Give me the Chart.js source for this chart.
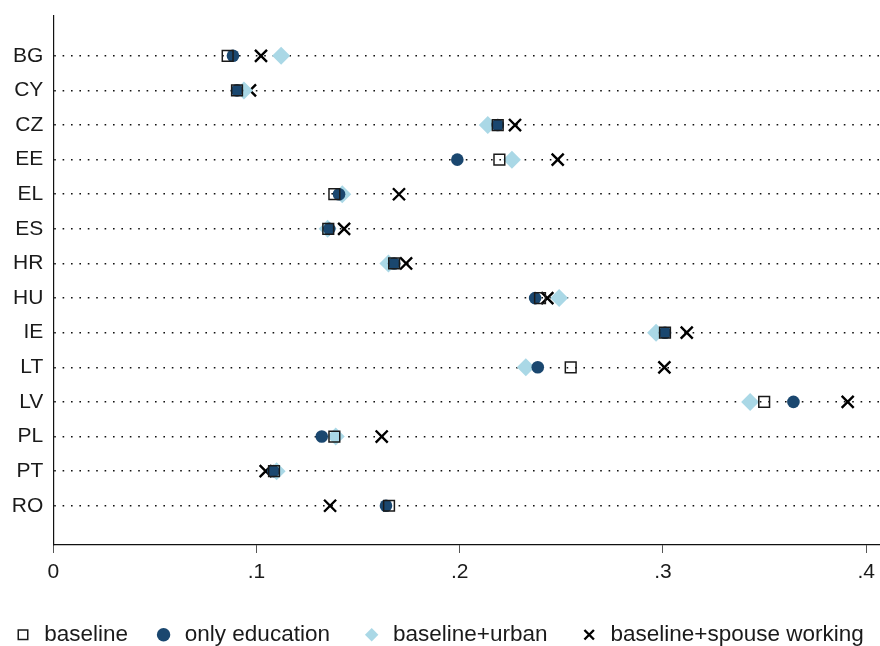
<!DOCTYPE html>
<html><head><meta charset="utf-8">
<script src="https://cdn.jsdelivr.net/npm/chart.js@4.4.1/dist/chart.umd.min.js"></script>
<style>html,body{margin:0;padding:0;background:#fff;overflow:hidden;} #wrap{width:880px;height:656px;}</style>
</head><body><div id="wrap"><canvas id="c" width="880" height="656"></canvas></div>
<script>
const countries = ['BG','CY','CZ','EE','EL','ES','HR','HU','IE','LT','LV','PL','PT','RO'];
const baseline      = [0.0858,0.0904,0.2187,0.2195,0.1383,0.1353,0.1677,0.2395,0.3010,0.2546,0.3498,0.1383,0.1086,0.1652];
const onlyEducation = [0.0884,0.0904,0.2187,0.1988,0.1406,0.1358,0.1677,0.2371,0.3010,0.2384,0.3642,0.1321,0.1083,0.1637];
const baselineUrban = [0.1121,0.0938,0.2138,0.2257,0.1422,0.1350,0.1649,0.2489,0.2966,0.2325,0.3429,0.1390,0.1099,null];
const baselineSpouse= [0.1022,0.0968,0.2272,0.2482,0.1701,0.1431,0.1736,0.2431,0.3117,0.3007,0.3909,0.1616,0.1045,0.1362];
const xTicks = [0, 0.1, 0.2, 0.3, 0.4];
const xTickLabels = ['0', '.1', '.2', '.3', '.4'];
const seriesNames = ['baseline','only education','baseline+urban','baseline+spouse working'];
// extra trailing space per legend entry (mimics the column spacing of the original legend)
const legendGaps = [2, 3, 3, 0];

const toPts = arr => arr.map((v, i) => v === null ? null : {x: v, y: i}).filter(p => p);
const FONT = 'Liberation Sans, Arial, Helvetica, sans-serif';

new Chart(document.getElementById('c'), {
  type: 'scatter',
  data: {
    datasets: [
      {label: seriesNames[0], data: toPts(baseline), pointStyle: 'rect', pointRadius: 7.6, pointHoverRadius: 7.6,
       backgroundColor: 'rgba(0,0,0,0)', borderColor: '#1a1a1a', borderWidth: 1.5},
      {label: seriesNames[1], data: toPts(onlyEducation), pointStyle: 'circle', pointRadius: 6.3, pointHoverRadius: 6.3,
       backgroundColor: '#1a476f', borderColor: '#1a476f', borderWidth: 0},
      {label: seriesNames[2], data: toPts(baselineUrban), pointStyle: 'rectRot', pointRadius: 9, pointHoverRadius: 9,
       backgroundColor: '#aad8e6', borderColor: '#aad8e6', borderWidth: 0},
      {label: seriesNames[3], data: toPts(baselineSpouse), pointStyle: 'crossRot', pointRadius: 8.5, pointHoverRadius: 8.5,
       backgroundColor: '#000', borderColor: '#000', borderWidth: 2.4}
    ]
  },
  options: {
    responsive: false,
    animation: false,
    events: [],
    layout: {autoPadding: false, padding: {top: 16, left: 0, right: 0, bottom: 0}},
    plugins: {
      tooltip: {enabled: false},
      legend: {
        position: 'bottom',
        align: 'start',
        labels: {
          usePointStyle: true,
          boxWidth: 20,
          boxHeight: 9.5,
          padding: 13,
          color: '#1a1a1a',
          font: {family: FONT, size: 22.5},
          generateLabels: chart => {
            const items = Chart.defaults.plugins.legend.labels.generateLabels(chart);
            items.forEach((it, i) => { it.text = it.text + ' '.repeat(legendGaps[i] || 0); });
            return items;
          }
        }
      }
    },
    scales: {
      x: {
        type: 'linear',
        min: 0,
        max: 0.4068,
        afterBuildTicks: axis => { axis.ticks = xTicks.map(v => ({value: v})); },
        afterFit: scale => { scale.height = 65.5; scale.paddingLeft = 0; scale.paddingRight = 0; },
        ticks: {
          padding: 7,
          color: '#1a1a1a',
          font: {family: FONT, size: 21},
          callback: (v) => { const i = xTicks.findIndex(t => Math.abs(t - v) < 1e-9); return i >= 0 ? xTickLabels[i] : ''; },
          maxRotation: 0
        },
        grid: {display: true, drawOnChartArea: false, drawTicks: true, tickLength: 8, color: '#555', lineWidth: 1},
        border: {display: true, color: '#111', width: 1.2}
      },
      y: {
        type: 'linear',
        reverse: true,
        min: -1.15,
        max: 14.134,
        afterBuildTicks: axis => { axis.ticks = countries.map((c, i) => ({value: i})); },
        afterFit: scale => { scale.width = 53.3; scale.paddingTop = 0; scale.paddingBottom = 0; },
        ticks: {
          padding: 10,
          color: '#1a1a1a',
          font: {family: FONT, size: 21},
          callback: (v) => countries[Math.round(v)] ?? ''
        },
        grid: {display: true, drawOnChartArea: true, drawTicks: false, color: '#111', lineWidth: 1.6},
        border: {display: true, color: '#111', width: 1.2, dash: [1.6, 6.8]}
      }
    }
  }
});
</script>
</body></html>
